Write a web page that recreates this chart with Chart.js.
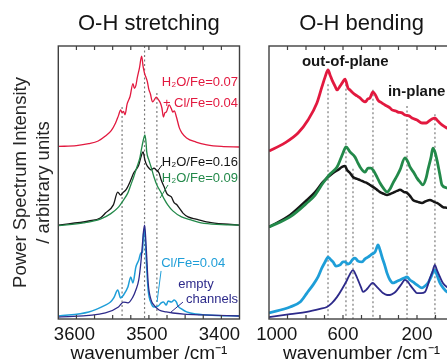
<!DOCTYPE html>
<html>
<head>
<meta charset="utf-8">
<script src="https://cdn.jsdelivr.net/npm/chart.js@4.4.0/dist/chart.umd.min.js"></script>
<style>
html, body { margin:0; padding:0; background:#fff; overflow:hidden; width:447px; height:363px; }
#myChart_stretch { position:absolute; left:0; top:0; }
#myChart_bend { position:absolute; left:245px; top:0; }
</style>
</head>
<body>
<canvas id="myChart_stretch" width="245" height="363"></canvas>
<canvas id="myChart_bend" width="235" height="363"></canvas>
<script>
// O-H stretching  [wavenumber, intensity]
var stretchRed = [[3625,63.2],[3600,63.5],[3583,64.2],[3570,65.2],[3560,67.0],[3552,69.0],[3546,71.8],[3542,74.5],[3539,76.6],[3537,75.6],[3535,76.0],[3533,74.8],[3530,78.8],[3526,81.5],[3522,86.2],[3520,84.5],[3518,85.5],[3516,88.4],[3513,92.0],[3510,96.3],[3508,92.5],[3506,90.0],[3504,88.5],[3502,86.8],[3500,84.0],[3498,82.5],[3495,79.5],[3492,80.5],[3490,81.3],[3487,80.4],[3484,79.0],[3482,77.2],[3480,74.0],[3478,75.5],[3476,75.8],[3472,78.4],[3469,77.0],[3467,75.8],[3465,76.2],[3462,74.0],[3458,70.0],[3454,68.0],[3448,66.3],[3435,64.8],[3420,63.8],[3400,63.2],[3375,63.0]];
var stretchBlack = [[3625,34.4],[3583,35.9],[3567,37.0],[3560,38.8],[3549,41.8],[3543,46.5],[3539,45.4],[3536,46.2],[3531,47.6],[3525,50.9],[3521,53.5],[3518,54.6],[3514,56.4],[3511,59.3],[3508,61.2],[3505.5,58.2],[3503,56.4],[3500,55.3],[3497,54.6],[3493,55.3],[3490,54.6],[3486,53.5],[3483,50.9],[3479,48.4],[3475,45.8],[3469,44.7],[3465,42.5],[3462,42.0],[3458,40.6],[3453,38.8],[3446,37.4],[3435,36.6],[3418,35.5],[3397,34.8],[3375,34.4]];
var stretchGreen = [[3625,34.2],[3590,35.2],[3567,36.6],[3553,38.5],[3543,40.7],[3536,43.2],[3529,46.2],[3525,49.1],[3521,52.0],[3517,55.3],[3512.5,59.0],[3510,62.6],[3507,66.3],[3505.5,67.4],[3504,64.8],[3503,61.2],[3500,58.2],[3497,55.7],[3493,52.0],[3489,49.1],[3483,46.2],[3479,44.0],[3474,41.8],[3467,39.6],[3455,37.4],[3442,36.3],[3428,35.2],[3400,34.6],[3375,34.4]];
var stretchCyan = [[3625,1.1],[3583,2.6],[3560,5.1],[3553,6.2],[3548.5,7.7],[3543,10.6],[3539,7.7],[3535,8.8],[3529,11.7],[3525,15.4],[3522,13.2],[3518,19.0],[3514,21.6],[3511,24.2],[3509,24.5],[3507.5,30.8],[3506,33.3],[3505,28.9],[3503.5,20.9],[3501,10.6],[3497,5.9],[3493,4.4],[3487,4.8],[3483,5.9],[3480,6.2],[3476,5.1],[3473.5,6.6],[3469,6.2],[3465,7.0],[3462,6.2],[3460,4.8],[3455,3.7],[3448,2.6],[3435,1.8],[3407,1.3],[3375,1.1]];
var stretchNavy = [[3625,0.7],[3560,2.2],[3542,4.4],[3535,6.2],[3529,5.9],[3522,8.1],[3518,10.6],[3514,14.3],[3511,20.9],[3509,27.1],[3507.5,31.9],[3506,34.4],[3505,31.9],[3503.5,25.3],[3501,13.2],[3497,7.0],[3493,5.1],[3486,3.3],[3476,2.6],[3467,2.2],[3452,1.8],[3428,1.5],[3375,1.1]];

// O-H bending  [wavenumber, intensity]
var bendRed = [[1000,61.5],[914,64.5],[843,68.1],[789,72.9],[741,79.1],[714,85.0],[697,88.6],[681,91.2],[670,89.4],[659,87.5],[643,85.3],[632,83.9],[616,85.3],[605,86.4],[589,87.9],[573,84.6],[562,83.9],[546,82.8],[524,81.7],[508,81.0],[492,79.9],[481,79.5],[465,80.6],[454,81.0],[438,83.2],[422,81.7],[411,80.2],[389,79.1],[373,78.4],[346,77.3],[335,76.6],[314,76.2],[303,75.8],[281,75.5],[265,74.7],[243,74.4],[227,73.6],[200,72.9],[173,71.8],[151,71.8],[141,72.2],[119,73.3],[103,73.6],[87,72.5],[65,71.1],[38,69.9],[11,68.9],[0,68.1]];
var bendGreen = [[1000,33.7],[886,37.4],[795,42.5],[751,45.4],[708,49.8],[670,53.1],[632,55.7],[611,59.0],[600,60.8],[584,63.0],[562,61.2],[535,59.3],[519,57.1],[508,55.7],[481,53.8],[465,55.3],[449,55.3],[438,54.6],[416,52.0],[400,49.8],[378,47.6],[362,46.5],[346,47.6],[330,49.8],[308,52.4],[292,54.6],[265,59.0],[249,57.5],[238,55.7],[216,53.5],[200,51.6],[184,50.2],[168,49.1],[151,51.6],[141,54.6],[124,59.3],[114,62.6],[103,61.2],[92,58.2],[76,52.7],[65,49.1],[38,48.0],[11,47.3],[0,46.9]];
var bendBlack = [[1000,33.7],[886,38.1],[795,43.6],[751,46.5],[708,50.2],[654,53.5],[627,54.6],[605,55.7],[589,56.0],[578,54.6],[562,53.5],[546,52.0],[524,51.3],[508,50.9],[487,50.2],[470,49.8],[454,49.1],[438,48.4],[416,47.3],[400,46.5],[378,45.8],[362,45.4],[346,45.8],[330,46.2],[308,46.9],[292,47.3],[270,46.5],[254,46.2],[238,45.1],[222,43.6],[195,42.9],[173,42.5],[151,43.2],[130,43.6],[108,42.9],[92,42.5],[76,41.8],[60,41.0],[38,40.7],[11,39.9],[0,39.6]];
var bendCyan = [[1000,2.2],[886,4.4],[832,6.2],[795,9.5],[762,12.5],[735,15.4],[714,18.7],[697,20.9],[681,22.7],[670,22.0],[654,20.9],[638,19.4],[616,19.8],[600,20.9],[589,20.9],[573,20.1],[562,20.5],[546,22.0],[535,22.3],[519,21.2],[497,20.9],[481,22.0],[465,22.7],[443,23.8],[427,24.5],[416,26.4],[411,27.1],[400,25.3],[389,22.7],[373,19.4],[362,16.8],[346,14.3],[330,13.2],[314,13.6],[292,14.3],[270,15.0],[254,15.4],[238,14.3],[222,13.6],[200,12.5],[173,11.4],[157,12.1],[141,13.2],[124,15.4],[114,17.2],[103,17.9],[92,16.1],[76,13.2],[54,11.0],[38,9.9],[11,9.2],[0,8.8]];
var bendNavy = [[1000,0.7],[886,1.8],[795,2.6],[724,3.7],[687,4.4],[659,5.9],[632,8.1],[605,11.0],[578,14.3],[562,16.5],[546,17.9],[530,16.1],[519,14.3],[503,11.7],[492,9.9],[476,10.6],[465,11.4],[449,12.8],[438,13.2],[427,12.5],[416,11.7],[400,10.6],[384,9.5],[362,8.8],[346,8.8],[324,9.5],[308,10.6],[287,12.5],[265,14.3],[249,13.6],[238,12.5],[216,10.6],[200,9.5],[178,9.5],[157,9.9],[141,12.5],[130,15.0],[119,16.8],[103,19.8],[92,17.9],[76,15.4],[60,13.2],[38,11.7],[11,10.6],[0,10.3]];

// 虛線 peak positions and how high they reach
var stretchPeaks = [3537, 3506, 3489];
var stretchPeakTops = [77.7, 100, 82.8];
var bendPeaks = [681, 584, 546, 438, 254, 103];
var bendPeakTops = [86, 86, 55, 84, 78, 75];

// axis ticks
var stretchTickLabels = [3600, 3500, 3400];
var stretchMinorTicks = [3600, 3575, 3550, 3525, 3500, 3475, 3450, 3425, 3400];
var bendTickLabels = [1000, 600, 200];
var bendMinorTicks = [900, 800, 700, 600, 500, 400, 300, 200, 100];

var colRed = '#e2193f', colGreen = '#23894a', colBlack = '#161616', colCyan = '#1e9ed8', colNavy = '#2d2a8a';
var fontFam = "'Liberation Sans', Arial, Helvetica, sans-serif";
Chart.defaults.font.family = fontFam;
Chart.defaults.color = '#1a1a1a';

function pts(arr){
    return arr.map(function(p){ return {x: p[0], y: p[1]}; });
}

function curve(arr, color, width, order){
    return {
        data: pts(arr), borderColor: color, borderWidth: width, pointRadius: 0,
        cubicInterpolationMode: 'monotone', fill: false, order: order
    };
}

function dashed(peaks, tops){
    return peaks.map(function(p, i){
        return {
            data: [{x: p, y: tops[i]}, {x: p, y: 0}], borderColor: '#7a7a7a', borderWidth: 1.2,
            borderDash: [2, 2.5], pointRadius: 0, fill: false, order: 9
        };
    });
}

// box + inward ticks + in-plot texts
var framePlugin = {
    id: 'frame',
    afterDatasetsDraw: function(chart, args, opts){
        var ctx = chart.ctx, a = chart.chartArea, xs = chart.scales.x, ys = chart.scales.y;
        ctx.save();
        ctx.strokeStyle = '#404040';
        ctx.lineWidth = 1.4;
        ctx.strokeRect(a.left, a.top, a.right - a.left, a.bottom - a.top);
        ctx.lineWidth = 1.2;
        opts.ticks.forEach(function(v){
            var px = xs.getPixelForValue(v);
            ctx.beginPath();
            ctx.moveTo(px, a.top); ctx.lineTo(px, a.top + 4);
            ctx.moveTo(px, a.bottom); ctx.lineTo(px, a.bottom - 4);
            ctx.stroke();
        });
        ctx.textBaseline = 'middle';
        opts.labels.forEach(function(l){
            ctx.font = (l.bold ? 'bold ' : '') + l.size + 'px ' + fontFam;
            ctx.fillStyle = l.color;
            ctx.textAlign = l.align;
            ctx.fillText(l.text, xs.getPixelForValue(l.x), ys.getPixelForValue(l.y));
        });
        ctx.restore();
    }
};

var stretchLabels = [
    {text: 'H\u2082O/Fe=0.07', x: 3377, y: 86.8, color: colRed, align: 'right', size: 13},
    {text: '+ Cl/Fe=0.04', x: 3377, y: 79.1, color: colRed, align: 'right', size: 13},
    {text: 'H\u2082O/Fe=0.16', x: 3377, y: 57.5, color: colBlack, align: 'right', size: 13},
    {text: 'H\u2082O/Fe=0.09', x: 3377, y: 51.6, color: colGreen, align: 'right', size: 13},
    {text: 'Cl/Fe=0.04', x: 3483, y: 20.5, color: colCyan, align: 'left', size: 13},
    {text: 'empty', x: 3435, y: 12.5, color: colNavy, align: 'center', size: 13},
    {text: 'channels', x: 3377, y: 7.3, color: colNavy, align: 'right', size: 13}
];
var bendLabels = [
    {text: 'out-of-plane', x: 822, y: 94.1, color: '#161616', align: 'left', size: 15, bold: true},
    {text: 'in-plane', x: 357, y: 83.2, color: '#161616', align: 'left', size: 15, bold: true}
];

function initChart(){
    // 左 O-H stretching
    var stretchSets = [
        curve(stretchRed, colRed, 1.3, 1),
        curve(stretchBlack, colBlack, 1.3, 3),
        curve(stretchGreen, colGreen, 1.3, 2),
        curve(stretchCyan, colCyan, 1.5, 2),
        curve(stretchNavy, colNavy, 1.3, 1),
        // leader lines from the texts
        {data: [{x: 3482, y: 56.4}, {x: 3489, y: 53.8}], borderColor: colBlack, borderWidth: 1, pointRadius: 0, order: 0},
        {data: [{x: 3473.6, y: 49.1}, {x: 3484.6, y: 44.3}], borderColor: colGreen, borderWidth: 1, pointRadius: 0, order: 0},
        {data: [{x: 3483.2, y: 17.6}, {x: 3488.8, y: 6.2}], borderColor: colCyan, borderWidth: 1, pointRadius: 0, order: 0},
        {data: [{x: 3453, y: 6.2}, {x: 3471, y: 2.2}], borderColor: colNavy, borderWidth: 1, pointRadius: 0, order: 0}
    ].concat(dashed(stretchPeaks, stretchPeakTops));

    new Chart(document.getElementById('myChart_stretch'), {
        type: 'line',
        data: { datasets: stretchSets },
        plugins: [framePlugin],
        options: {
            responsive: false,
            animation: false,
            layout: { padding: { left: 0, right: 5.5, top: 0, bottom: 0 } },
            plugins: {
                legend: { display: false },
                tooltip: { enabled: false },
                title: {
                    display: true, text: 'O-H stretching', color: '#151515', fullSize: false,
                    font: { size: 22, weight: 'normal' }, padding: { top: 11, bottom: 8.6 }
                },
                frame: { ticks: stretchMinorTicks, labels: stretchLabels }
            },
            scales: {
                x: {
                    type: 'linear', min: 3375, max: 3625, reverse: true,
                    grid: { display: false, drawTicks: false }, border: { display: false },
                    afterBuildTicks: function(s){ s.ticks = stretchTickLabels.map(function(v){ return {value: v}; }); },
                    afterFit: function(s){ s.height = 44; s.paddingLeft = 0; s.paddingRight = 0; },
                    ticks: {
                        autoSkip: false, maxRotation: 0, minRotation: 0, padding: 5, labelOffset: -2, color: '#151515', font: { size: 18.5 },
                        callback: function(v){ return String(v); }
                    },
                    title: { display: true, text: 'wavenumber /cm\u207B\u00B9', color: '#151515', font: { size: 19, lineHeight: 1 }, padding: 0 }
                },
                y: {
                    min: 0, max: 100,
                    grid: { display: false, drawTicks: false }, border: { display: false },
                    ticks: { display: false },
                    afterFit: function(s){ s.width = 58.3; },
                    title: {
                        display: true, text: ['Power Spectrum Intensity', '/ arbitrary units'], color: '#262626',
                        font: { size: 18.5, lineHeight: 1.24 }, padding: { top: 9.5, bottom: 0 }
                    }
                }
            }
        }
    });

    // 右 O-H bending
    var bendSets = [
        curve(bendRed, colRed, 2.8, 1),
        curve(bendBlack, colBlack, 2.5, 3),
        curve(bendGreen, colGreen, 2.8, 2),
        curve(bendCyan, colCyan, 2.8, 2),
        curve(bendNavy, colNavy, 1.8, 1)
    ].concat(dashed(bendPeaks, bendPeakTops));

    new Chart(document.getElementById('myChart_bend'), {
        type: 'line',
        data: { datasets: bendSets },
        plugins: [framePlugin],
        options: {
            responsive: false,
            animation: false,
            layout: { padding: { left: 0, right: 26, top: 0, bottom: 0 } },
            plugins: {
                legend: { display: false },
                tooltip: { enabled: false },
                title: {
                    display: true, text: 'O-H bending', color: '#151515', fullSize: false,
                    font: { size: 22, weight: 'normal' }, padding: { top: 11, bottom: 8.6 }
                },
                frame: { ticks: bendMinorTicks, labels: bendLabels }
            },
            scales: {
                x: {
                    type: 'linear', min: 0, max: 1000, reverse: true,
                    grid: { display: false, drawTicks: false }, border: { display: false },
                    afterBuildTicks: function(s){ s.ticks = bendTickLabels.map(function(v){ return {value: v}; }); },
                    afterFit: function(s){ s.height = 44; s.paddingLeft = 0; s.paddingRight = 0; },
                    ticks: {
                        autoSkip: false, maxRotation: 0, minRotation: 0, padding: 5, color: '#151515', font: { size: 18.5 },
                        callback: function(v){ return v === 1000 ? '   1000' : String(v); }
                    },
                    title: { display: true, text: 'wavenumber /cm\u207B\u00B9', color: '#151515', font: { size: 19, lineHeight: 1 }, padding: 0 }
                },
                y: {
                    min: 0, max: 100,
                    grid: { display: false, drawTicks: false }, border: { display: false },
                    ticks: { display: false },
                    afterFit: function(s){ s.width = 24; }
                }
            }
        }
    });
};

initChart();
</script>
</body>
</html>
